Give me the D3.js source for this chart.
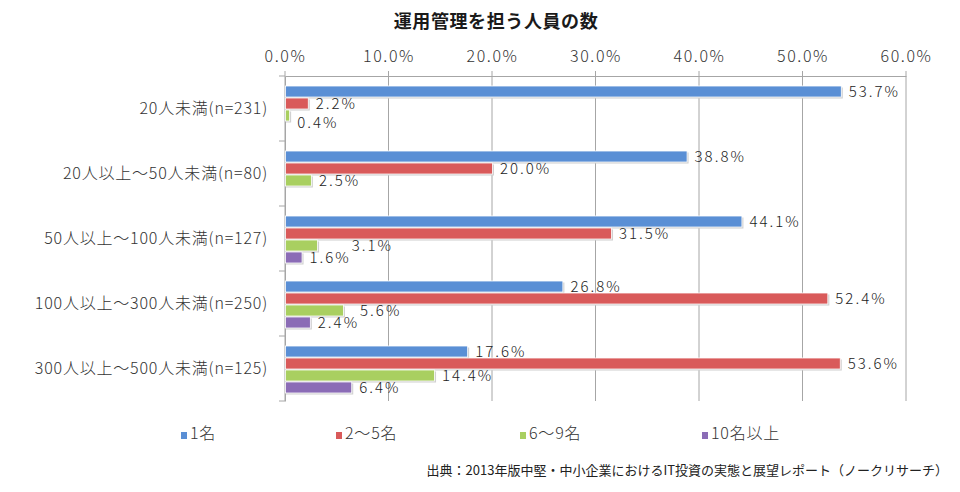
<!DOCTYPE html>
<html>
<head>
<meta charset="utf-8">
<script src="https://cdn.jsdelivr.net/npm/d3@7"></script>
<style>
  body { margin: 0; background: #fff; }
  text { font-family: "Noto Sans CJK JP", "Noto Sans", sans-serif; }
  .lbl { font-weight: 300; letter-spacing: 0.8px; }
</style>
</head>
<body>
<div id="chart"></div>
<script>
// data
var categories = [
    "20人未満(n=231)",
    "20人以上～50人未満(n=80)",
    "50人以上～100人未満(n=127)",
    "100人以上～300人未満(n=250)",
    "300人以上～500人未満(n=125)"
];
var seriesNames = ["1名", "2～5名", "6～9名", "10名以上"];
var seriesColors = ["#5a8fd5", "#d95a5a", "#a9cf60", "#8b6cb6"];
var oneName   = [53.7, 38.8, 44.1, 26.8, 17.6];
var twoToFive = [2.2, 20.0, 31.5, 52.4, 53.6];
var sixToNine = [0.4, 2.5, 3.1, 5.6, 14.4];
var tenOrMore = [null, null, 1.6, 2.4, 6.4];
var xTicks = [0, 10, 20, 30, 40, 50, 60];

var allSeries = [oneName, twoToFive, sixToNine, tenOrMore];

var width = 960, height = 492;

var svg = d3.select("#chart").append("svg")
    .attr("width", width)
    .attr("height", height);

// scales
var x = d3.scaleLinear().domain([0, 60]).range([285, 906]);
var y = d3.scaleBand().domain(categories).range([76, 401]);
var ySub = d3.scaleBand().domain(d3.range(seriesNames.length))
    .range([10, 57]).paddingInner(0.08);

// title
svg.append("text")
    .attr("x", 496)
    .attr("y", 28)
    .attr("text-anchor", "middle")
    .style("font-size", "18px")
    .style("font-weight", "bold")
    .style("letter-spacing", "0.6px")
    .style("fill", "#1a1a1a")
    .text("運用管理を担う人員の数");

// vertical gridlines (extend above for tick marks)
svg.append("g").selectAll("line")
    .data(xTicks)
    .enter().append("line")
    .attr("x1", function(d) { return x(d); })
    .attr("x2", function(d) { return x(d); })
    .attr("y1", 71)
    .attr("y2", 401)
    .attr("stroke", "#a6a6a6")
    .attr("stroke-width", 1);

// top axis
var xAxis = d3.axisTop(x)
    .tickValues(xTicks)
    .tickSize(0)
    .tickPadding(14)
    .tickFormat(function(d) { return d.toFixed(1) + "%"; });

var gx = svg.append("g")
    .attr("transform", "translate(0,76)")
    .call(xAxis);
gx.select(".domain").attr("stroke", "#a6a6a6");
gx.selectAll("text")
    .attr("class", "lbl")
    .style("font-size", "16px")
    .style("letter-spacing", "1.6px")
    .style("fill", "#333")
    .style("font-family", "\"Noto Sans CJK JP\", sans-serif");

// left axis
var yAxis = d3.axisLeft(y).tickSize(0).tickPadding(17);
var gy = svg.append("g")
    .attr("transform", "translate(285,0)")
    .call(yAxis);
gy.select(".domain").attr("stroke", "#a6a6a6");
gy.selectAll("text")
    .attr("class", "lbl")
    .style("font-size", "16px")
    .style("fill", "#333")
    .style("font-family", "\"Noto Sans CJK JP\", sans-serif");

// category boundary ticks on the left axis
var bounds = categories.map(function(c) { return y(c); }).concat([401]);
svg.append("g").selectAll("line")
    .data(bounds)
    .enter().append("line")
    .attr("x1", 279)
    .attr("x2", 285)
    .attr("y1", function(d) { return d; })
    .attr("y2", function(d) { return d; })
    .attr("stroke", "#a6a6a6");

// bars
var bars = [];
categories.forEach(function(c, ci) {
    allSeries.forEach(function(s, si) {
        if (s[ci] != null) {
            bars.push({cat: c, ci: ci, si: si, v: s[ci]});
        }
    });
});

var barG = svg.append("g");

// soft shadow
barG.selectAll("rect.shadow")
    .data(bars)
    .enter().append("rect")
    .attr("class", "shadow")
    .attr("x", x(0) + 1)
    .attr("y", function(d) { return y(d.cat) + ySub(d.si) + 1.5; })
    .attr("width", function(d) { return x(d.v) - x(0) + 1; })
    .attr("height", ySub.bandwidth())
    .attr("fill", "#d0d0d0");

barG.selectAll("rect.bar")
    .data(bars)
    .enter().append("rect")
    .attr("class", "bar")
    .attr("x", x(0) + 0.5)
    .attr("y", function(d) { return y(d.cat) + ySub(d.si); })
    .attr("width", function(d) { return x(d.v) - x(0); })
    .attr("height", ySub.bandwidth())
    .attr("fill", function(d) { return seriesColors[d.si]; })
    .attr("stroke", "#fff")
    .attr("stroke-width", 0.8);

// value labels
var labels = svg.append("g").selectAll("text")
    .data(bars)
    .enter().append("text")
    .attr("class", "lbl")
    .attr("x", function(d) { return x(d.v) + 8; })
    .attr("y", function(d) { return y(d.cat) + ySub(d.si) + ySub.bandwidth() / 2 + 1; })
    .attr("dominant-baseline", "middle")
    .style("font-size", "15px")
    .style("letter-spacing", "2px")
    .style("fill", "#222")
    .text(function(d) { return d.v.toFixed(1) + "%"; });

labels.each(function(d) {
    d.x0 = x(d.v) + 8;
    d.x1 = d.x0 + this.getComputedTextLength();
    d.y0 = y(d.cat) + ySub(d.si) + ySub.bandwidth() / 2 + 1;
});

function findBar(ci, si) {
    return bars.filter(function(b) { return b.ci === ci && b.si === si; })[0];
}

// keep the "6～9名" labels clear of their neighbours, like the original does:
// push right when the "10名以上" label below collides,
// push down when there is no bar below and the "2～5名" label above collides
labels.filter(function(d) { return d.si === 2; })
    .attr("x", function(d) {
        var below = findBar(d.ci, 3);
        if (below && below.x1 > d.x0) {
            return below.x1 + 1;
        }
        return d.x0;
    })
    .attr("y", function(d) {
        var above = findBar(d.ci, 1);
        var below = findBar(d.ci, 3);
        if (!below && above && above.x1 > d.x0 && above.x0 < d.x1) {
            return d.y0 + 7;
        }
        return d.y0;
    });

// legend
var legendX = [181, 336, 520, 702];
var legend = svg.append("g").selectAll("g")
    .data(seriesNames)
    .enter().append("g")
    .attr("transform", function(d, i) { return "translate(" + legendX[i] + ",435)"; });

legend.append("rect")
    .attr("x", 0)
    .attr("y", -3)
    .attr("width", 6)
    .attr("height", 7)
    .attr("fill", function(d, i) { return seriesColors[i]; });

legend.append("text")
    .attr("class", "lbl")
    .attr("x", 9)
    .attr("y", 0)
    .attr("dominant-baseline", "middle")
    .style("font-size", "16px")
    .style("fill", "#333")
    .text(function(d) { return d; });

// source
svg.append("text")
    .attr("x", 948)
    .attr("y", 471)
    .attr("text-anchor", "end")
    .attr("dominant-baseline", "middle")
    .style("font-size", "13px")
    .style("fill", "#222")
    .text("出典：2013年版中堅・中小企業におけるIT投資の実態と展望レポート（ノークリサーチ）");
</script>
</body>
</html>
